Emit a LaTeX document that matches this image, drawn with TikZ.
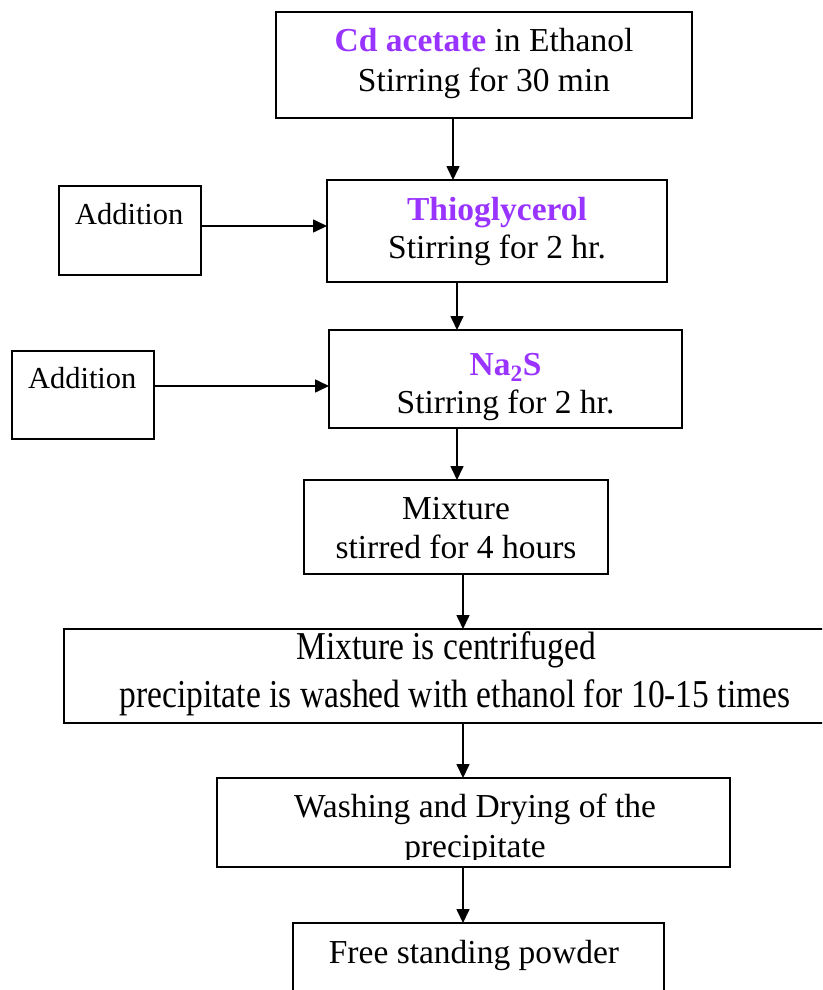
\documentclass[tikz,border=0pt]{standalone}
\usepackage{fontspec}
\setmainfont{Liberation Serif}
\usepackage{graphicx}
\usetikzlibrary{arrows.meta}
\definecolor{chem}{RGB}{153,51,255}
\tikzset{
  box/.style={draw=black, line width=1.6pt, inner sep=0pt, outer sep=0pt, fill=none},
  txt/.style={inner sep=0pt, outer sep=0pt, anchor=base, font=\fontsize{33.5}{39}\selectfont},
  addtxt/.style={inner sep=0pt, outer sep=0pt, anchor=base west, font=\fontsize{30.5}{36}\selectfont},
  arr/.style={line width=1.6pt, -{Triangle[length=14pt, width=13pt]}},
  hl/.style={text=chem, font=\fontsize{33.5}{39}\selectfont\bfseries}
}
\begin{document}
\begin{tikzpicture}[x=1pt, y=-1pt]
\useasboundingbox (0,0) rectangle (822,990);
\clip (0,0) rectangle (822,990);
% boxes
\node[box, minimum width=416pt, minimum height=106pt] (b1) at (484,65) {};
\node[box, minimum width=340pt, minimum height=102pt] (b2) at (497,231) {};
\node[box, minimum width=142pt, minimum height=89pt] (a1) at (130,230.5) {};
\node[box, minimum width=353pt, minimum height=98pt] (b3) at (505.5,379) {};
\node[box, minimum width=142pt, minimum height=88pt] (a2) at (83,395) {};
\node[box, minimum width=304pt, minimum height=94pt] (b4) at (456,527) {};
\node[box, minimum width=788pt, minimum height=94pt] (b5) at (458,676) {};
\node[box, minimum width=513pt, minimum height=89pt] (b6) at (473.5,822.5) {};
\node[box, minimum width=371pt, minimum height=87pt] (b7) at (478.5,966.5) {};
% texts
\node[txt] (t1a) at (484,52) {\textcolor{chem}{\bfseries Cd acetate} in Ethanol};
\node[txt] (t1b) at (484,91) {Stirring for 30 min};
\node[txt] (t2a) at (497,220) {\textcolor{chem}{\bfseries Thioglycerol}};
\node[txt] (t2b) at (497,258) {Stirring for 2 hr.};
\node[addtxt] (ta1) at (75,224) {Addition};
\node[txt] (t3a) at (505.5,375) {\textcolor{chem}{\bfseries Na\textsubscript{2}S}};
\node[txt] (t3b) at (505.5,413) {Stirring for 2 hr.};
\node[addtxt] (ta2) at (28,388) {Addition};
\node[txt] (t4a) at (456,519) {Mixture};
\node[txt] (t4b) at (456,558) {stirred for 4 hours};
\node[txt] (t5a) at (446,659) {\scalebox{1}[1.18]{Mixture is centrifuged}};
\node[txt] (t5b) at (455,707) {\scalebox{1}[1.18]{precipitate is washed with ethanol for 10-15 times}};
\begin{scope}
  \clip (217,778) rectangle (730,859);
  \node[txt] (t6a) at (475,817) {Washing and Drying of the};
  \node[txt] (t6b) at (475,857) {precipitate};
\end{scope}
\node[txt] (t7) at (474,963) {Free standing powder};
% connectors
\draw[arr] (453,0 |- b1.south) -- (453,0 |- b2.north);
\draw[arr] (457,0 |- b2.south) -- (457,0 |- b3.north);
\draw[arr] (457,0 |- b3.south) -- (457,0 |- b4.north);
\draw[arr] (463,0 |- b4.south) -- (463,0 |- b5.north);
\draw[arr] (463,0 |- b5.south) -- (463,0 |- b6.north);
\draw[arr] (463,0 |- b6.south) -- (463,0 |- b7.north);
\draw[arr] (a1.east |- 0,226) -- (b2.west |- 0,226);
\draw[arr] (a2.east |- 0,386) -- (b3.west |- 0,386);
\end{tikzpicture}
\end{document}
